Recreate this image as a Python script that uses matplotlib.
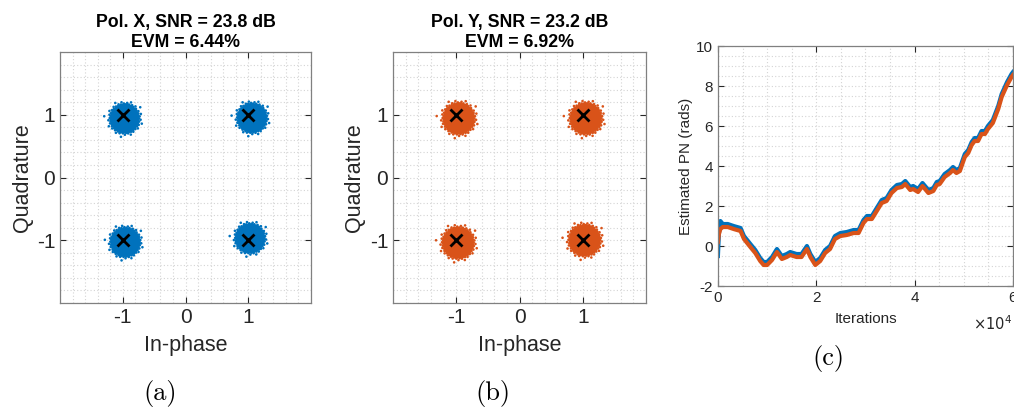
import matplotlib
matplotlib.use("Agg")
import matplotlib.pyplot as plt
import numpy as np

plt.rcParams['font.family'] = ['Liberation Sans', 'DejaVu Sans']
plt.rcParams['axes.unicode_minus'] = False

# ---- datos ----
simbolos_i = [-1, 1, -1, 1]
simbolos_q = [1, 1, -1, -1]

# desplazamiento medio de cada nube respecto al simbolo
despl_i = [[0.03, 0.06, 0.04, 0.03],    # Pol. X
           [0.04, 0.05, 0.03, 0.03]]    # Pol. Y
despl_q = [[-0.06, -0.05, -0.03, 0.03],
           [-0.06, -0.06, -0.04, 0.0]]

snr_db = [23.8, 23.2]
evm_pct = [6.44, 6.92]
pol = ['X', 'Y']

iteraciones = [0, 0.02, 0.05, 0.1, 0.2, 0.32, 0.46, 0.53, 0.66, 0.76,
               0.86, 0.93, 1.0, 1.1, 1.2, 1.3, 1.4, 1.47, 1.6, 1.7,
               1.81, 1.88, 1.98, 2.08, 2.18, 2.28, 2.38, 2.49, 2.62, 2.76,
               2.86, 2.96, 3.03, 3.13, 3.23, 3.33, 3.43, 3.53, 3.64, 3.74,
               3.81, 3.91, 3.97, 4.07, 4.16, 4.28, 4.38, 4.45, 4.51, 4.61,
               4.72, 4.78, 4.85, 4.92, 5.02, 5.09, 5.16, 5.22, 5.29, 5.36,
               5.43, 5.49, 5.59, 5.7, 5.77, 5.88, 5.97, 6.0]
pn_x = [-0.5, 0.6, 1.25, 1.1, 1.1, 1.0, 0.9, 0.5, 0.1, -0.2,
        -0.6, -0.8, -0.8, -0.55, -0.15, -0.5, -0.4, -0.3, -0.4, -0.4,
        0.0, -0.4, -0.8, -0.6, -0.2, 0.0, 0.5, 0.65, 0.7, 0.8,
        0.8, 1.3, 1.5, 1.5, 1.9, 2.3, 2.4, 2.8, 3.05, 3.1,
        3.25, 2.95, 3.0, 2.85, 3.15, 2.8, 2.9, 3.2, 3.25, 3.6,
        3.8, 3.95, 3.8, 3.9, 4.6, 4.8, 5.2, 5.4, 5.4, 5.75,
        5.75, 6.0, 6.3, 7.0, 7.6, 8.2, 8.6, 8.7]
pn_y = [0.2, 0.6, 0.85, 0.95, 0.95, 0.85, 0.75, 0.35, -0.05, -0.35,
        -0.75, -0.95, -0.95, -0.7, -0.3, -0.65, -0.55, -0.45, -0.55, -0.55,
        -0.15, -0.55, -0.95, -0.75, -0.35, -0.15, 0.35, 0.5, 0.55, 0.65,
        0.65, 1.15, 1.35, 1.35, 1.75, 2.15, 2.25, 2.65, 2.9, 2.95,
        3.1, 2.8, 2.85, 2.7, 3.0, 2.65, 2.75, 3.05, 3.1, 3.45,
        3.65, 3.8, 3.65, 3.75, 4.45, 4.65, 5.05, 5.25, 5.25, 5.6,
        5.6, 5.85, 6.15, 6.85, 7.45, 8.05, 8.45, 8.55]

azul = '#0072BD'
naranja = '#D95319'
gris = '#808080'
gris_grid = '#d4d4d4'


def nube(cx, cy, sigma, n=4000):
    # nube circular gaussiana determinista (patron girasol)
    k = np.arange(n)
    r = sigma * np.sqrt(-2 * np.log(1 - (k + 0.5) / n))
    th = k * 2.399963
    return cx + r * np.cos(th), cy + r * np.sin(th)


def estilo(ax, fs):
    ax.tick_params(direction='in', top=True, right=True, labelsize=fs,
                   colors='#262626', length=4, width=0.8)
    for s in ax.spines.values():
        s.set_color(gris)
        s.set_linewidth(0.9)
    ax.grid(True, which='both', linestyle=(0, (1, 2)), color=gris_grid, linewidth=0.8)
    ax.set_axisbelow(True)


fig = plt.figure(figsize=(10.14, 4.12), dpi=100)

posiciones = [[0.0592, 0.2646, 0.2475, 0.609], [0.3876, 0.2646, 0.2495, 0.609]]
colores = [azul, naranja]
etiquetas = ['(a)', '(b)']
x_etiq = [0.158, 0.486]

for p in range(2):
    ax = fig.add_axes(posiciones[p])
    sigma = 1.2 * evm_pct[p] / 100
    for s in range(4):
        xs, ys = nube(simbolos_i[s] + despl_i[p][s], simbolos_q[s] + despl_q[p][s], sigma)
        ax.scatter(xs, ys, s=3.5, color=colores[p], edgecolors='none', zorder=2)
    ax.plot(simbolos_i, simbolos_q, 'x', color='black', markersize=8, mew=2, zorder=3)
    ax.set_xlim(-2, 2)
    ax.set_ylim(-2, 2)
    ax.set_xticks([-1, 0, 1])
    ax.set_yticks([-1, 0, 1])
    ax.set_xticks(np.arange(-2, 2.01, 0.2), minor=True)
    ax.set_yticks(np.arange(-2, 2.01, 0.2), minor=True)
    ax.tick_params(which='minor', length=0)
    estilo(ax, 15)
    ax.set_xlabel('In-phase', fontsize=15.5, color='#262626', labelpad=6)
    ax.set_ylabel('Quadrature', fontsize=15.5, color='#262626', labelpad=3)
    ax.set_title(f'Pol. {pol[p]}, SNR = {snr_db[p]} dB\nEVM = {evm_pct[p]:.2f}%',
                 fontsize=12.8, fontweight='bold', pad=4, linespacing=1.2)
    fig.text(x_etiq[p], 0.046, etiquetas[p], family='cmr10', fontsize=19,
             ha='center', va='center')

ax3 = fig.add_axes([0.708, 0.3058, 0.291, 0.5825])
it = np.array(iteraciones) * 1e4
ax3.plot(it, pn_x, color=azul, linewidth=3)
ax3.plot(it, pn_y, color=naranja, linewidth=3)
ax3.set_xlim(0, 6e4)
ax3.set_ylim(-2, 10)
ax3.set_xticks([0, 2e4, 4e4, 6e4])
ax3.set_xticklabels(['0', '2', '4', '6'])
ax3.set_yticks(np.arange(-2, 10.1, 2))
ax3.set_xticks(np.arange(0, 6.01e4, 0.5e4), minor=True)
ax3.set_yticks(np.arange(-2, 10.01, 0.5), minor=True)
ax3.tick_params(which='minor', length=0)
estilo(ax3, 11)
ax3.set_xlabel('Iterations', fontsize=11, color='#262626', labelpad=5)
ax3.set_ylabel('Estimated PN (rads)', fontsize=11, color='#262626', labelpad=2)
fig.text(0.998, 0.215, r'$\times10^{4}$', fontsize=10.5, color='#262626',
         ha='right', va='center')
fig.text(0.817, 0.131, '(c)', family='cmr10', fontsize=19, ha='center', va='center')

fig.savefig('out.png', dpi=100)
